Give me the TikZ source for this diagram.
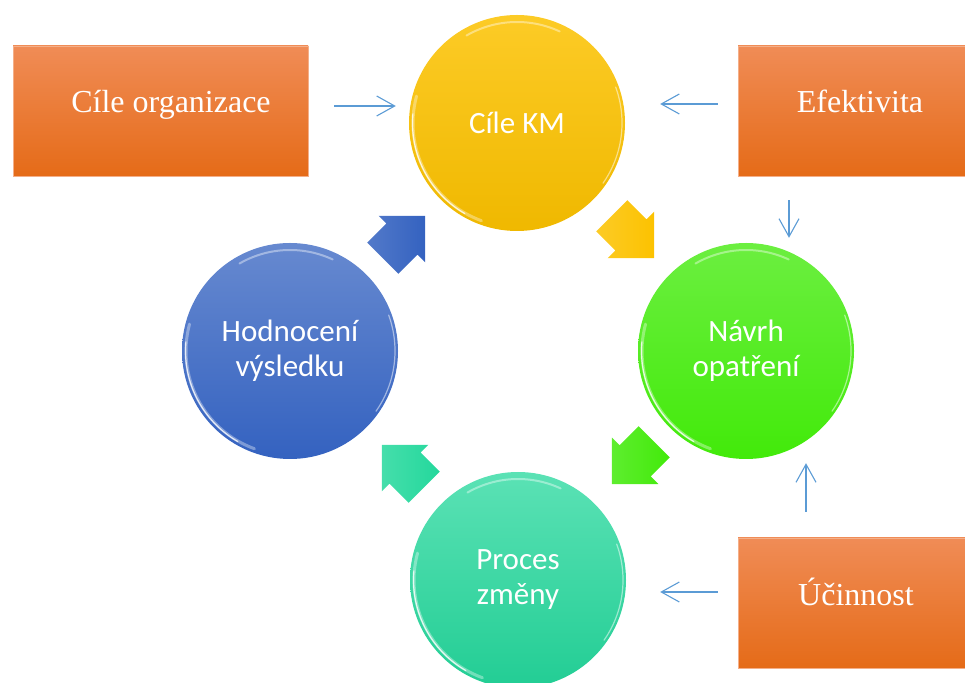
\documentclass[tikz,border=0pt]{standalone}
\usepackage{fontspec}
\setmainfont{Liberation Serif}
\newfontfamily\circlefont{Carlito}
\usetikzlibrary{arrows.meta, positioning, calc}
\definecolor{kmyellow}{RGB}{252,194,0}
\definecolor{navgreen}{RGB}{66,234,10}
\definecolor{proteal}{RGB}{36,216,156}
\definecolor{hodblue}{RGB}{52,98,192}
\definecolor{boxtop}{RGB}{240,140,86}
\definecolor{boxmid}{RGB}{242,125,42}
\definecolor{boxbot}{RGB}{229,107,24}
\definecolor{linkblue}{RGB}{91,155,213}
\tikzset{
  phase/.style={circle, minimum size=216pt, inner sep=0pt, text=white,
                align=center, font=\circlefont\fontsize{31}{35}\selectfont},
  orangebox/.style={rectangle, minimum height=130pt, inner sep=0pt,
                    draw=boxtop!70!white, line width=0.8pt,
                    top color=boxtop, middle color=boxmid, bottom color=boxbot},
  boxtext/.style={text=white, font=\fontsize{32}{38}\selectfont,
                  text height=22pt, text depth=7pt},
  thinarrow/.style={-{Straight Barb[length=18pt, width=20pt]}, line width=1.1pt, color=linkblue},
  gloss/.style={white, line cap=round},
}
\begin{document}
\begin{tikzpicture}[x=1pt, y=1pt]
    \useasboundingbox (0,0) rectangle (965,682);

    % cycle of phases
    \node[phase, top color=kmyellow!85!white, bottom color=kmyellow!95!black] (ckm) at (517,559) {Cíle KM};
    \node[phase, top color=navgreen!78!white, bottom color=navgreen] (navrh) at (746,331) {Návrh\\opatření};
    \node[phase, top color=proteal!75!white, bottom color=proteal!95!black] (proces) at (518,102) {Proces\\změny};
    \node[phase, top color=hodblue!75!white, bottom color=hodblue] (hodn) at (290,331) {Hodnocení\\výsledku};

    \foreach \c in {ckm, navrh, proces, hodn}{
      \draw[gloss, opacity=0.35, line width=3pt] ($(\c.center)+(165:104pt)$) arc[start angle=165, end angle=250, radius=104pt];
      \draw[gloss, opacity=0.8, line width=1.2pt] ($(\c.center)+(175:104.5pt)$) arc[start angle=175, end angle=240, radius=104.5pt];
      \draw[gloss, opacity=0.4, line width=2pt] ($(\c.center)+(65:101pt)$) arc[start angle=65, end angle=120, radius=101pt];
      \draw[gloss, opacity=0.5, line width=1.2pt] ($(\c.center)+(-35:105pt)$) arc[start angle=-35, end angle=20, radius=105pt];
    }

    \foreach \x/\y/\ang/\col in {
      633/445/-45/kmyellow,
      633/219/-135/navgreen,
      403/216/135/proteal,
      404/445/45/hodblue}{
      \begin{scope}[shift={(\x,\y)}, rotate=\ang]
        \shade[left color=\col!85!white, right color=\col]
          (-30,-22) -- (-3,-22) -- (-3,-33) -- (30,0) -- (-3,33) -- (-3,22) -- (-30,22) -- cycle;
      \end{scope}
    }

    % outer factors
    \node[orangebox, minimum width=295pt,
          label={[boxtext, xshift=10.5pt, yshift=5.5pt]center:Cíle organizace}] (org) at (160.5,571) {};
    \node[orangebox, minimum width=240pt,
          label={[boxtext, xshift=2pt, yshift=5.5pt]center:Efektivita}] (efekt) at (858,571) {};
    \node[orangebox, minimum width=240pt,
          label={[boxtext, xshift=-2pt, yshift=5.5pt]center:Účinnost}] (ucin) at (858,79) {};

    \draw[thinarrow, shorten <=26pt, shorten >=13pt] ([yshift=5pt]org.east) -- ([yshift=5pt]org.east -| ckm.west);
    \draw[thinarrow, shorten <=20pt, shorten >=35pt] ([yshift=7pt]efekt.west) -- ([yshift=7pt]efekt.west -| ckm.east);
    \draw[thinarrow, shorten <=24pt, shorten >=5pt] ([xshift=-69pt]efekt.south) -- ([xshift=-69pt]efekt.south |- navrh.north);
    \draw[thinarrow, shorten <=26pt, shorten >=4pt] ([xshift=-52pt]ucin.north) -- ([xshift=-52pt]ucin.north |- navrh.south);
    \draw[thinarrow, shorten <=20pt, shorten >=34pt] ([yshift=11pt]ucin.west) -- ([yshift=11pt]ucin.west -| proces.east);
\end{tikzpicture}
\end{document}
